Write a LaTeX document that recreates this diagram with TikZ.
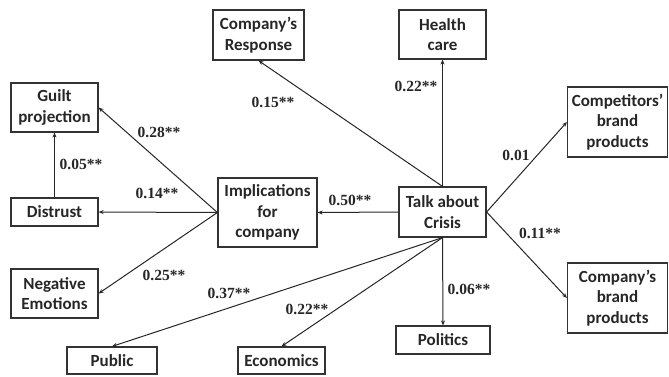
\documentclass[tikz,border=0pt]{standalone}
\usepackage{fontspec}
\setmainfont{Liberation Serif}
\newfontfamily\boxfont{Carlito}
\usetikzlibrary{arrows.meta}
\tikzset{
  box/.style={draw=black!80, line width=1.2pt, inner sep=0pt, align=center,
    font=\boxfont\bfseries\fontsize{17}{20.5}\selectfont, text=black!85},
  lbl/.style={inner sep=0pt, font=\bfseries\fontsize{15.5}{17}\selectfont, text=black!85},
  arr/.style={draw=black!85, line width=1pt, -{Stealth[length=5pt,width=4pt]}}
}
\begin{document}
\begin{tikzpicture}[x=1pt,y=-1pt]
\useasboundingbox (0,0) rectangle (669,376);
\node[box, minimum width=91pt, minimum height=50pt] (resp) at (258.5,35) {Company’s\\Response};
\node[box, minimum width=87pt, minimum height=49pt] (health) at (442.5,34.5) {Health\\care};
\node[box, minimum width=87pt, minimum height=49pt] (guilt) at (54.5,107.5) {Guilt\\projection};
\node[box, minimum width=100pt, minimum height=70pt] (comp) at (617.5,122) {Competitors’\\brand\\products};
\node[box, minimum width=87pt, minimum height=28pt] (distrust) at (54.5,212) {Distrust};
\node[box, minimum width=99pt, minimum height=69pt] (impl) at (267.5,212.5) {Implications\\for\\company};
\node[box, minimum width=87pt, minimum height=50pt] (talk) at (442.5,212) {Talk about\\Crisis};
\node[box, minimum width=87pt, minimum height=49pt] (neg) at (54.5,293.5) {Negative\\Emotions};
\node[box, minimum width=100pt, minimum height=70pt] (brand) at (617.5,298) {Company’s\\brand\\products};
\node[box, minimum width=94pt, minimum height=28pt] (politics) at (443,340) {Politics};
\node[box, minimum width=90pt, minimum height=27pt] (public) at (112,360.5) {Public};
\node[box, minimum width=87pt, minimum height=27pt] (econ) at (281.5,360.5) {Economics};

\draw[arr] (talk.north) -- (health.south);
\draw[arr] (talk.north) -- (resp.south);
\draw[arr] (talk.east) -- (comp.west);
\draw[arr] (talk.east) -- (brand.west);
\draw[arr] (talk.west) -- (impl.east);
\draw[arr] (talk.south) -- (politics.north);
\draw[arr] (talk.south) -- (public.north);
\draw[arr] (talk.south) -- (econ.north);
\draw[arr] (impl.west) -- (distrust.east);
\draw[arr] (impl.west) -- (guilt.east);
\draw[arr] (impl.west) -- (neg.east);
\draw[arr] (distrust.north) -- (guilt.south);

\node[lbl] (l1) at (416,86) {0.22**};
\node[lbl] (l2) at (273,102) {0.15**};
\node[lbl] (l3) at (516,155) {0.01};
\node[lbl] (l4) at (540,233) {0.11**};
\node[lbl] (l5) at (350,200) {0.50**};
\node[lbl] (l6) at (469,289) {0.06**};
\node[lbl] (l7) at (229,293) {0.37**};
\node[lbl] (l8) at (307,309) {0.22**};
\node[lbl] (l9) at (157,193) {0.14**};
\node[lbl] (l10) at (159,132) {0.28**};
\node[lbl] (l11) at (164,275) {0.25**};
\node[lbl] (l12) at (81,164) {0.05**};
\end{tikzpicture}
\end{document}
